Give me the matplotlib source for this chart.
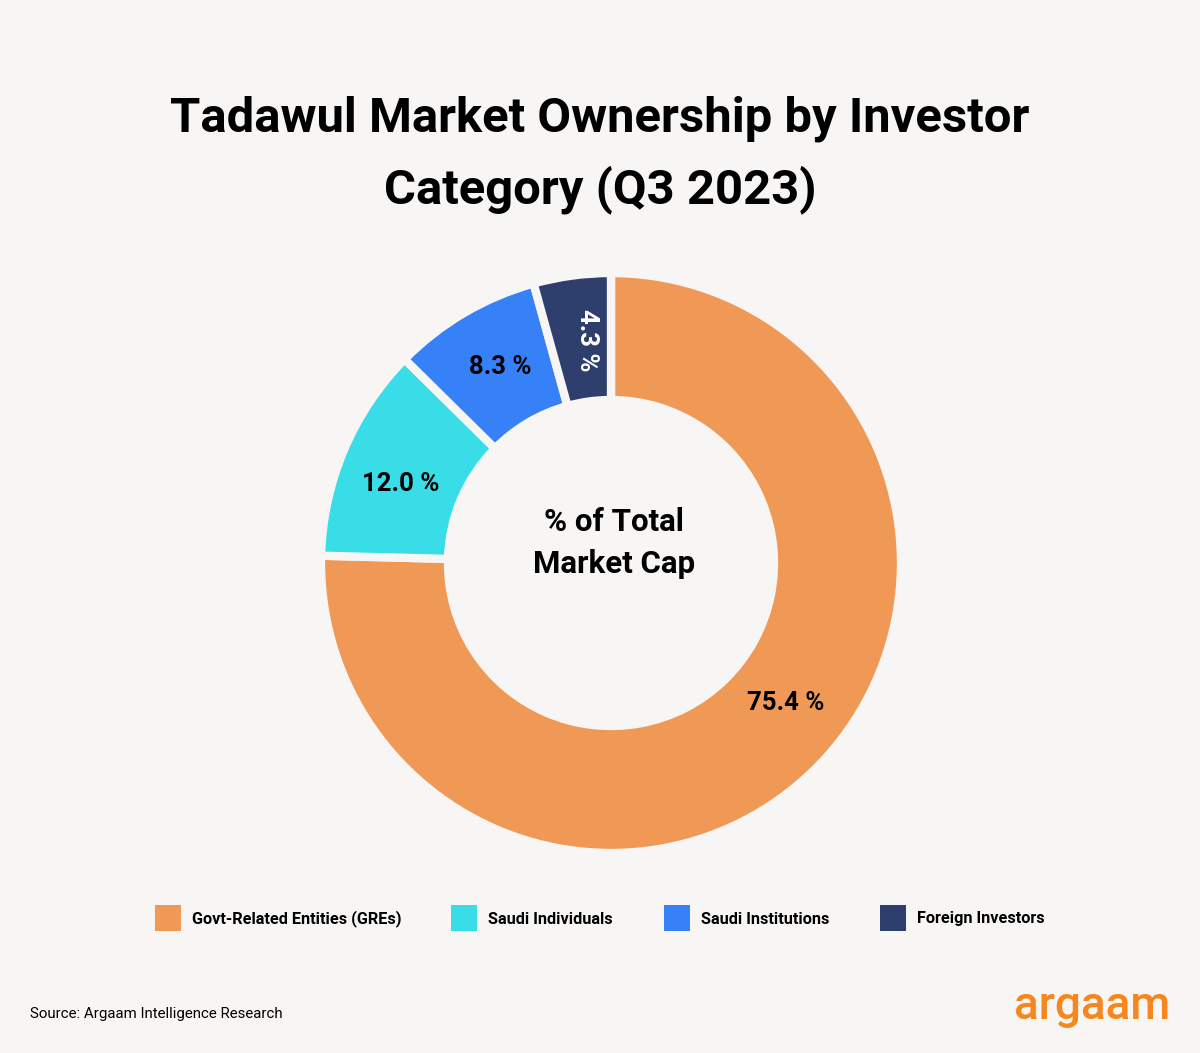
import numpy as np
import matplotlib.pyplot as plt
from matplotlib.patches import Rectangle

# data
categories = ['Govt-Related Entities (GREs)', 'Saudi Individuals', 'Saudi Institutions', 'Foreign Investors']
shares = [75.4, 12.0, 8.3, 4.3]
colors = ['#f09855', '#38dde8', '#3681f7', '#2e3f6e']
label_colors = ['black', 'black', 'black', 'white']

bg = '#f8f6f4'
fam = ['Roboto', 'DejaVu Sans']

fig = plt.figure(figsize=(12, 10.53), dpi=100, facecolor=bg)

# donut axes, 1 data unit = 1 pixel, centre at (611, 563)
W, H = 1200, 1053
cx, cy, half = 611, 563, 300
ax = fig.add_axes([(cx - half) / W, (H - cy - half) / H, 2 * half / W, 2 * half / H])

R_out, ring = 290, 127
wedges, _ = ax.pie(shares, colors=colors, startangle=90, counterclock=False,
                   radius=R_out, wedgeprops=dict(width=ring, edgecolor=bg, linewidth=6))
ax.set_xlim(-half, half)
ax.set_ylim(-half, half)
ax.set_aspect('equal')
ax.axis('off')

# percentage labels
angle_shift = [7, 2.4, -1, -1.5]
rot = [0, 0, 0, -90]
for w, v, c, s, r in zip(wedges, shares, label_colors, angle_shift, rot):
    mid = np.deg2rad((w.theta1 + w.theta2) / 2 + s)
    rr = R_out - ring / 2 - 2
    ax.text(rr * np.cos(mid), rr * np.sin(mid), f'{v:.1f} %', ha='center', va='center',
            fontsize=18.5, fontweight='bold', color=c, rotation=r, family=fam)

ax.text(3, 20, '% of Total\nMarket Cap', ha='center', va='center', fontsize=22.5,
        fontweight='bold', linespacing=1.5, family=fam)

# title
fig.text(0.5, 1 - 119 / H, 'Tadawul Market Ownership by Investor', ha='center', va='center',
         fontsize=35.3, fontweight='bold', family=fam)
fig.text(0.5, 1 - 190 / H, 'Category (Q3 2023)', ha='center', va='center',
         fontsize=35.3, fontweight='bold', family=fam)

# legend
leg_x = [155, 451, 664, 880]
for x, lab, c in zip(leg_x, categories, colors):
    fig.patches.append(Rectangle((x / W, 1 - 931 / H), 26 / W, 26 / H, transform=fig.transFigure,
                                 facecolor=c, edgecolor='none'))
    fig.text((x + 37) / W, 1 - 919 / H, lab, ha='left', va='center', fontsize=11.7,
             fontweight='bold', family=fam)

# footer
fig.text(30 / W, 1 - 1014 / H, 'Source: Argaam Intelligence Research', ha='left', va='center',
         fontsize=10.8, family=fam)
fig.text(1170 / W, 1 - 1006 / H, 'argaam', ha='right', va='center', fontsize=33,
         fontweight='medium', color='#f7861c', family=fam)

fig.savefig('out.png', dpi=100, facecolor=bg)
